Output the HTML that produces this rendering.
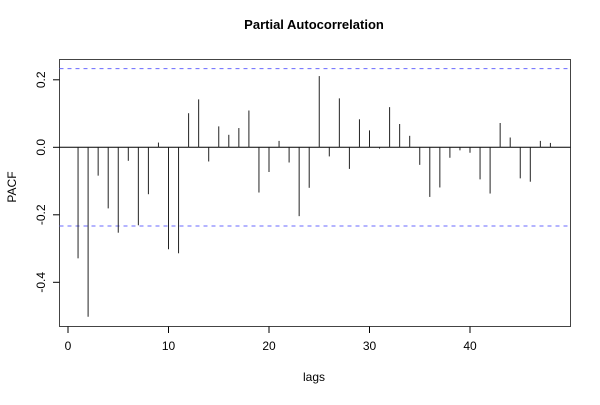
<!DOCTYPE html>
<html><head><meta charset="utf-8"><style>
body{margin:0;background:#fff;}
svg text{font-family:"Liberation Sans",sans-serif;}
</style></head><body>
<svg id="chart" width="600" height="400" xmlns="http://www.w3.org/2000/svg">
<text x="314" y="29" text-anchor="middle" font-size="13" font-weight="bold">Partial Autocorrelation</text>
<text x="314" y="381" text-anchor="middle" font-size="12">lags</text>
<text transform="translate(16,187) rotate(-90)" text-anchor="middle" font-size="12">PACF</text>
<g id="marks"></g>
</svg>
<script>
const lags=[1,2,3,4,5,6,7,8,9,10,11,12,13,14,15,16,17,18,19,20,21,22,23,24,25,26,27,28,29,30,31,32,33,34,35,36,37,38,39,40,41,42,43,44,45,46,47,48];
const pacf=[-0.329,-0.502,-0.084,-0.181,-0.253,-0.040,-0.231,-0.139,0.014,-0.302,-0.314,0.101,0.142,-0.042,0.062,0.037,0.057,0.109,-0.134,-0.073,0.019,-0.045,-0.204,-0.120,0.211,-0.027,0.145,-0.064,0.083,0.050,-0.004,0.119,0.069,0.034,-0.052,-0.147,-0.119,-0.031,-0.009,-0.016,-0.095,-0.137,0.072,0.029,-0.092,-0.102,0.019,0.013];
const xTicks=[0,10,20,30,40];
const yTicks=[-0.4,-0.2,0.0,0.2];
const ciBound=[0.233];
const NS="http://www.w3.org/2000/svg";
const svg=document.getElementById('chart');
const g=document.getElementById('marks');
const x=v=>68+v*10.05;
const y=v=>147.3-v*337.5;
function mk(tag,attrs){const e=document.createElementNS(NS,tag);for(const k in attrs)e.setAttribute(k,attrs[k]);g.appendChild(e);return e;}
let e=mk('rect',{x:59.5,y:59.5,width:511,height:267,fill:'none',stroke:'#444','stroke-width':1});


e=mk('line',{x1:59.5,x2:570.5,y1:y(0),y2:y(0),stroke:'#000','stroke-width':1});


[ciBound[0],-ciBound[0]].forEach((b,i)=>{
 const l=mk('line',{x1:59.5,x2:570.5,y1:y(b),y2:y(b),stroke:'#6a6aff','stroke-width':1,'stroke-dasharray':'4,4'});
 
 
});
lags.forEach((k,i)=>{
 const l=mk('line',{x1:x(k),x2:x(k),y1:y(0),y2:y(pacf[i]),stroke:'#222','stroke-width':1});
 
 
});
xTicks.forEach(t=>{
 const l=mk('line',{x1:x(t),x2:x(t),y1:326.5,y2:333,stroke:'#000'});
 
 
 const tx=mk('text',{x:x(t),y:350,'text-anchor':'middle','font-size':'12'});
 tx.textContent=t;
 
 
});
yTicks.forEach(t=>{
 const l=mk('line',{x1:53,x2:59.5,y1:y(t),y2:y(t),stroke:'#000'});
 
 
 const tx=mk('text',{transform:'translate(45,'+y(t)+') rotate(-90)','text-anchor':'middle','font-size':'12'});
 tx.textContent=t.toFixed(1);
 
 
});
</script>
</body></html>
